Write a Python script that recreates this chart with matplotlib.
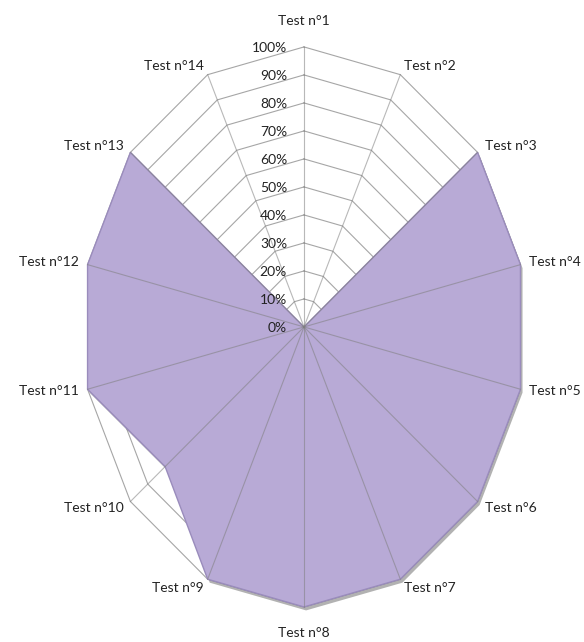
import numpy as np
import matplotlib.pyplot as plt
from matplotlib import patheffects

tests = ['Test n°1', 'Test n°2', 'Test n°3', 'Test n°4', 'Test n°5', 'Test n°6', 'Test n°7',
         'Test n°8', 'Test n°9', 'Test n°10', 'Test n°11', 'Test n°12', 'Test n°13', 'Test n°14']
scores = [0, 0, 100, 100, 100, 100, 100, 100, 100, 80, 100, 100, 100, 0]
levels = [0, 10, 20, 30, 40, 50, 60, 70, 80, 90, 100]

angles = np.linspace(0, 2 * np.pi, len(tests), endpoint=False)
closed = np.append(angles, angles[0])

fig = plt.figure(figsize=(5.84, 6.42), dpi=100)
ax = fig.add_axes([0.1404, 0.0546, 0.7603, 0.8723], projection='polar')
ax.set_aspect('auto')  # stretched web, taller than wide
ax.set_theta_zero_location('N')
ax.set_theta_direction(-1)
ax.set_ylim(0, 100)
ax.grid(False)
ax.set_xticks([])
ax.set_yticks([])
ax.spines['polar'].set_visible(False)
ax.patch.set_alpha(0)

# polygon rings every 10%
for lv in levels[1:]:
    ax.plot(closed, [lv] * len(closed), color='#a6a6a6', lw=0.8, zorder=1, clip_on=False)

# filled series with a soft drop shadow
vals = scores + scores[:1]
ax.fill(closed, vals, facecolor='#b8aad6', edgecolor='#9a8cbc', lw=1.0, zorder=2, clip_on=False,
        path_effects=[patheffects.SimplePatchShadow(offset=(1.5, -2.5), shadow_rgbFace='#555555', alpha=0.45),
                      patheffects.Normal()])

# spokes
for a in angles:
    ax.plot([a, a], [0, 100], color='#7f7f7f', alpha=0.55, lw=0.8, zorder=3, clip_on=False)

# value scale along the first spoke
for lv in levels:
    ax.annotate(f'{lv}%', xy=(0, lv), xytext=(-17, -1), textcoords='offset pixels',
                ha='right', va='center', fontsize=10, family='Lato', color='#222222', zorder=4)

# category labels around the web
for name, a in zip(tests, angles):
    s, c = np.sin(a), np.cos(a)
    dx, dy = 9 * s, 10 * c
    if abs(c) > 0.95:
        dy += 16 * np.sign(c)
    ha = 'center' if abs(s) < 0.1 else ('left' if s > 0 else 'right')
    ax.annotate(name, xy=(a, 100), xytext=(dx, dy), textcoords='offset pixels',
                ha=ha, va='center', fontsize=10, family='Lato', color='#222222', zorder=4)

fig.savefig('out.png', dpi=100)
